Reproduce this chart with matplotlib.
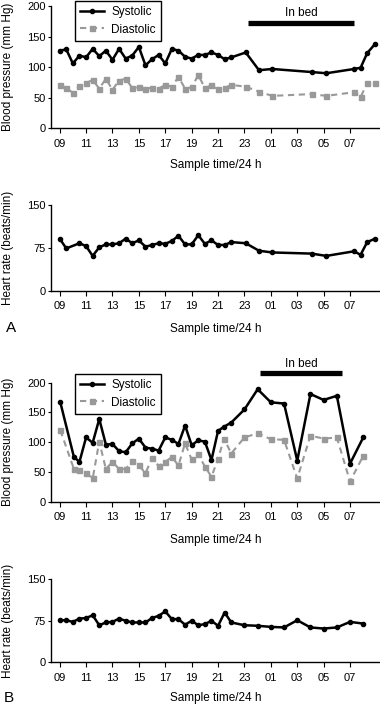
import numpy as np
import matplotlib
matplotlib.use('Agg')
import matplotlib.pyplot as plt

plt.rcParams['font.family'] = ['Liberation Sans', 'DejaVu Sans']

# hours after 09:00
hour_labels = ['09', '11', '13', '15', '17', '19', '21', '23', '01', '03', '05', '07']

# panel A: blood pressure
a_bp_t = [0, 0.5, 1.0, 1.5, 2.0, 2.5, 3.0, 3.5, 4.0, 4.5, 5.0, 5.5, 6.0, 6.5, 7.0, 7.5,
          8.0, 8.5, 9.0, 9.5, 10.0, 10.5, 11.0, 11.5, 12.0, 12.5, 13.0, 14.1, 15.1, 16.1,
          19.1, 20.2, 22.3, 22.8, 23.3, 23.9]
a_sys = [127, 129, 106, 119, 116, 130, 118, 127, 112, 130, 114, 119, 133, 103, 113, 120,
         106, 130, 127, 117, 114, 120, 120, 124, 120, 113, 116, 124, 95, 97,
         92, 90, 97, 99, 123, 138]
a_dia = [71, 66, 58, 69, 74, 79, 65, 81, 63, 78, 81, 66, 67, 65, 66, 65,
         71, 68, 84, 65, 67, 87, 66, 70, 64, 66, 71, 68, 60, 53,
         56, 53, 59, 51, 74, 74]

# panel A: heart rate
a_hr_t = [0, 0.5, 1.5, 2.0, 2.5, 3.0, 3.5, 4.0, 4.5, 5.0, 5.5, 6.0, 6.5, 7.0, 7.5,
          8.0, 8.5, 9.0, 9.5, 10.0, 10.5, 11.0, 11.5, 12.0, 12.5, 13.0, 14.1, 15.1, 16.1,
          19.1, 20.2, 22.3, 22.8, 23.3, 23.9]
a_hr = [91, 74, 83, 78, 61, 76, 81, 81, 83, 91, 83, 88, 77, 80, 83,
        82, 87, 96, 81, 81, 97, 82, 88, 80, 80, 85, 83, 70, 67,
        65, 61, 69, 63, 85, 91]

# panel B: blood pressure
b_bp_t = [0.05, 1.08, 1.5, 2.0, 2.5, 3.0, 3.5, 4.0, 4.5, 5.0, 5.5, 6.0, 6.5, 7.0, 7.5,
          8.0, 8.5, 9.0, 9.5, 10.0, 10.5, 11.0, 11.5, 12.0, 12.45, 13.0, 14.0, 15.0,
          16.0, 17.0, 18.0, 19.0, 20.0, 21.0, 22.0, 23.0]
b_sys = [167, 75, 67, 108, 99, 139, 96, 97, 85, 83, 98, 106, 91, 89, 86,
         108, 104, 97, 128, 95, 103, 101, 70, 119, 126, 133, 155, 189,
         167, 165, 69, 181, 171, 178, 64, 108]
b_dia = [120, 55, 53, 49, 39, 101, 55, 67, 55, 55, 68, 61, 48, 73, 60,
         67, 75, 61, 98, 71, 80, 59, 42, 72, 106, 81, 108, 115,
         105, 104, 39, 111, 106, 108, 34, 77]

# panel B: heart rate
b_hr_t = [0, 0.5, 1.0, 1.5, 2.0, 2.5, 3.0, 3.5, 4.0, 4.5, 5.0, 5.5, 6.0, 6.5, 7.0, 7.5,
          8.0, 8.5, 9.0, 9.5, 10.0, 10.5, 11.0, 11.5, 12.0, 12.5, 13.0, 14.0, 15.0,
          16.0, 17.0, 18.0, 19.0, 20.0, 21.0, 22.0, 23.0]
b_hr = [76, 76, 73, 79, 80, 85, 67, 72, 73, 79, 75, 72, 72, 72, 80, 84,
        92, 78, 78, 68, 75, 67, 69, 75, 66, 90, 72, 67, 66,
        64, 63, 76, 63, 61, 63, 73, 70]

a_bed = (14.3, 22.3)
b_bed = (15.2, 21.4)

W, H = 380, 707
fig = plt.figure(figsize=(W / 100, H / 100), dpi=100)

def make_ax(top, bottom):
    ax = fig.add_axes([50.7 / W, 1 - bottom / H, (W - 50.7) / W, (bottom - top) / H])
    ax.set_xlim(-0.68, 24.27)
    ax.spines['top'].set_visible(False)
    ax.spines['right'].set_visible(False)
    ax.spines['left'].set_linewidth(1.0)
    ax.spines['bottom'].set_linewidth(1.0)
    ax.set_xticks(np.arange(0, 23, 2))
    ax.set_xticklabels(hour_labels)
    ax.tick_params(axis='x', length=3.5, width=0.8, pad=4.0, labelsize=8)
    ax.tick_params(axis='y', length=2.5, width=0.8, pad=1.0, labelsize=8)
    return ax

def xlabel(y):
    fig.text((50.7 + (W - 50.7) / 2) / W, 1 - y / H, 'Sample time/24 h',
             ha='center', va='center', fontsize=8.5)

def ylabel(ax, text, top, bottom):
    fig.text(8 / W, 1 - (top + bottom) / 2 / H, text, rotation=90,
             ha='center', va='center', fontsize=8.5)

def bp_panel(ax, t, sys, dia, bed, bar_y, legend_top):
    ax.plot(t, dia, ls=(0, (3, 2.2)), color='#999999', lw=1.5, marker='s', ms=3.6,
            label='Diastolic', zorder=2)
    ax.plot(t, sys, ls='-', color='black', lw=1.8, marker='o', ms=3.0,
            label='Systolic', zorder=3)
    ax.set_ylim(0, 200)
    ax.set_yticks([0, 50, 100, 150, 200])
    ax.plot(bed, [bar_y, bar_y], color='black', lw=3.8, solid_capstyle='butt', clip_on=False)
    ax.text(np.mean(bed), bar_y + 15, 'In bed', ha='center', va='center',
            fontsize=8.5, clip_on=False)
    h, l = ax.get_legend_handles_labels()
    leg = ax.legend(h[::-1], l[::-1], loc='upper left', bbox_to_anchor=(75 / W, 1 - legend_top / H),
                    bbox_transform=fig.transFigure, borderaxespad=0, fontsize=8.5,
                    fancybox=False, edgecolor='black', framealpha=1,
                    handlelength=2.0, handletextpad=0.6, labelspacing=0.45, borderpad=0.45)
    leg.get_frame().set_linewidth(1.0)

def hr_panel(ax, t, hr):
    ax.plot(t, hr, ls='-', color='black', lw=1.8, marker='o', ms=3.0)
    ax.set_ylim(0, 150)
    ax.set_yticks([0, 75, 150])

# panel A
ax1 = make_ax(6, 128.3)
bp_panel(ax1, a_bp_t, a_sys, a_dia, a_bed, 173, 1)
ylabel(ax1, 'Blood pressure (mm Hg)', 6, 128.3)
xlabel(165)

ax2 = make_ax(204.7, 291)
hr_panel(ax2, a_hr_t, a_hr)
ylabel(ax2, 'Heart rate (beats/min)', 204.7, 291)
xlabel(329)
fig.text(6 / W, 1 - 328 / H, 'A', ha='left', va='center', fontsize=11)

# panel B
ax3 = make_ax(382.7, 501.7)
bp_panel(ax3, b_bp_t, b_sys, b_dia, b_bed, 216, 374)
ylabel(ax3, 'Blood pressure (mm Hg)', 382.7, 501.7)
xlabel(540)

ax4 = make_ax(579.3, 662.3)
hr_panel(ax4, b_hr_t, b_hr)
ylabel(ax4, 'Heart rate (beats/min)', 579.3, 662.3)
xlabel(698)
fig.text(4 / W, 1 - 698 / H, 'B', ha='left', va='center', fontsize=11)

fig.savefig('out.png', dpi=100)
